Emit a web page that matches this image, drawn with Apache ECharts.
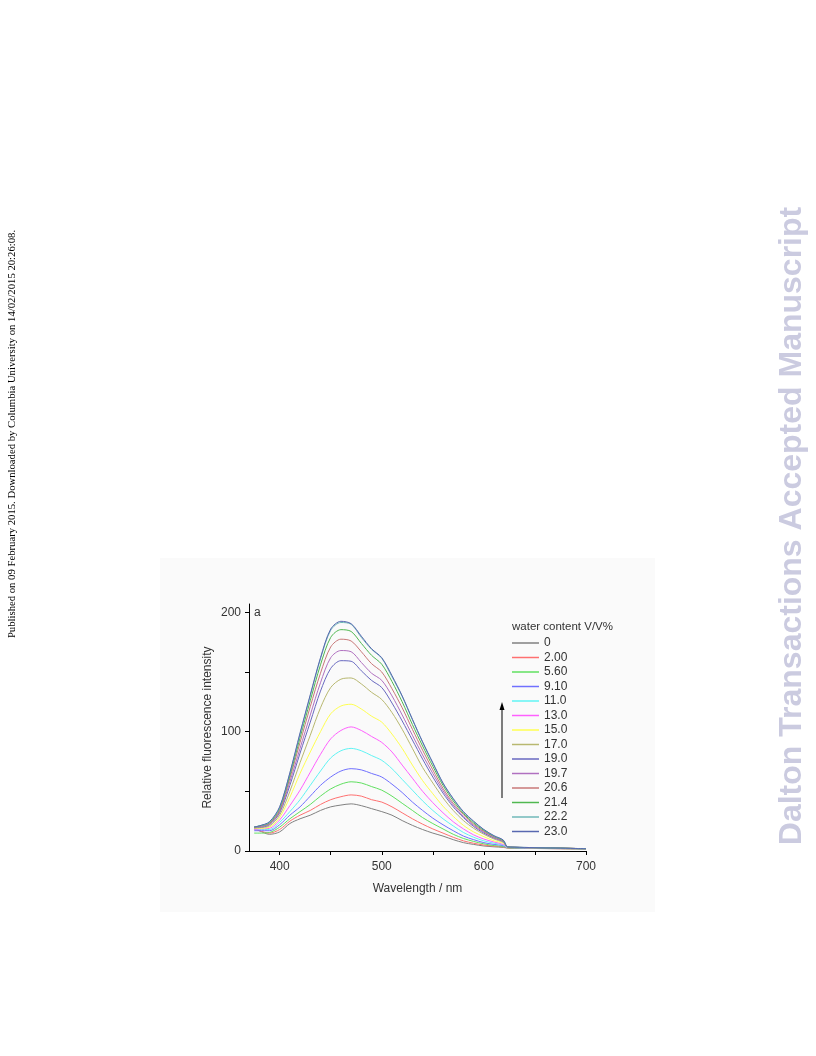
<!DOCTYPE html>
<html>
<head>
<meta charset="utf-8">
<script src="https://cdn.jsdelivr.net/npm/echarts@6/dist/echarts.min.js"></script>
<style>
html,body{margin:0;padding:0;background:#fff;}
#chart{width:816px;height:1056px;}
</style>
</head>
<body>
<div id="chart"></div>
<script>
// ---- data ----
const wavelengths = [375, 380, 390, 400, 410, 420, 430, 440, 450, 460, 470, 480, 490, 500, 510, 520, 530, 540, 550, 560, 570, 580, 590, 600, 610, 619, 623, 630, 640, 650, 660, 670, 680, 690, 700];

const seriesNames = ['0', '2.00', '5.60', '9.10', '11.0', '13.0', '15.0', '17.0', '19.0', '19.7', '20.6', '21.4', '22.2', '23.0'];

const w0_00 = [19, 17, 14, 16, 23, 27, 30, 34, 37, 38.5, 39.5, 38, 35.5, 33, 30, 25.5, 21.5, 18, 15, 12.5, 9.5, 7, 5.5, 4.2, 3.5, 3, 2.5, 2.3, 2.2, 2.1, 2, 1.9, 1.8, 1.7, 1.6];
const w2_00 = [18, 17, 15, 18, 25, 30, 34, 39, 43, 45.5, 47, 46, 43, 41, 37, 32, 27, 22.5, 18.5, 15, 11.5, 8.5, 6.5, 5, 4, 3.4, 2.6, 2.4, 2.3, 2.2, 2.1, 2, 1.9, 1.8, 1.7];
const w5_60 = [15, 15, 15.5, 20, 27, 33, 39, 46, 52, 56, 58, 57, 54, 51, 46, 40, 34, 28, 23, 18.5, 14, 10.5, 8, 6, 4.5, 3.8, 2.8, 2.6, 2.5, 2.4, 2.3, 2.2, 2, 1.9, 1.8];
const w9_10 = [17, 17, 17, 22, 30, 37, 46, 55, 62, 67, 69, 68, 65, 62, 56, 49, 41, 34, 27.5, 22, 17, 12.5, 9.5, 7, 5.5, 4.5, 3, 2.8, 2.6, 2.5, 2.4, 2.3, 2.1, 2, 1.9];
const w11_0 = [18, 18, 18, 24, 33, 43, 55, 67, 78, 84, 86, 84, 80, 76, 69, 60, 51, 42, 34, 27, 21, 15.5, 11.5, 8.5, 6.5, 5, 3, 2.8, 2.7, 2.6, 2.5, 2.3, 2.2, 2, 1.9];
const w13_0 = [18, 18.5, 19, 26, 38, 51, 66, 81, 94, 101, 104, 101, 96, 91, 83, 72, 61, 50, 40.5, 32, 24.5, 18.5, 13.5, 10, 7.5, 5.5, 3.2, 3, 2.8, 2.7, 2.5, 2.4, 2.2, 2.1, 2];
const w15_0 = [19, 19, 20, 28, 45, 65, 83, 100, 115, 121.5, 123, 119, 113, 108, 98, 86, 72, 59, 48, 37.5, 29, 21.5, 16, 12, 8.5, 6.5, 3.3, 3, 2.9, 2.7, 2.6, 2.4, 2.3, 2.1, 2];
const w17_0 = [19, 19.5, 21, 30, 50, 74, 97, 120, 137, 144, 145, 140, 133, 127, 116, 102, 86, 70, 57, 44.5, 34, 25.5, 19, 14, 10, 7.2, 3.4, 3.1, 2.9, 2.8, 2.6, 2.5, 2.3, 2.1, 2];
const w19_0 = [20, 20, 22, 32, 55, 82, 108, 134, 153, 159.5, 159, 151, 143, 137, 124, 109, 93, 77, 62, 48.5, 37, 28, 20.5, 15, 10.8, 7.8, 3.4, 3.1, 2.9, 2.8, 2.6, 2.5, 2.3, 2.1, 2];
const w19_7 = [20, 20.5, 22.5, 33, 58, 86, 114, 141, 162, 168, 167, 158, 149, 143, 130, 114, 97, 80.5, 65, 50.5, 38.5, 29, 21.5, 15.8, 11.2, 8.1, 3.5, 3.1, 2.9, 2.8, 2.6, 2.5, 2.3, 2.1, 2];
const w20_6 = [20, 20.5, 23, 34, 61, 91, 121, 149, 171, 177.5, 176, 167, 157, 150, 136, 120, 102, 84.5, 68, 52.5, 40, 30.5, 22.5, 16.5, 11.8, 8.4, 3.5, 3.1, 2.9, 2.8, 2.6, 2.5, 2.3, 2.1, 2];
const w21_4 = [20, 21, 23.5, 35.5, 63, 95, 126, 156, 179, 185.5, 184, 174, 164, 156.5, 142, 125, 106, 88, 71, 55, 42, 31.5, 23.5, 17.2, 12.2, 8.7, 3.5, 3.1, 2.9, 2.8, 2.6, 2.5, 2.3, 2.1, 2];
const w22_2 = [20, 21, 24, 36.5, 65, 98, 130, 161, 185, 191.5, 190, 179, 169, 161.5, 146, 129.5, 110, 91, 73.5, 56.5, 43.5, 32.5, 24.5, 17.8, 12.5, 9, 3.5, 3.2, 3, 2.8, 2.6, 2.5, 2.3, 2.1, 2];
const w23_0 = [20, 21, 24.5, 37, 65.5, 99, 131, 162, 186, 192.5, 190.5, 180, 169.5, 162, 147, 130, 110.5, 91.5, 74, 57, 44, 33, 25, 18, 12.8, 9.2, 3.6, 3.2, 3, 2.8, 2.6, 2.5, 2.3, 2.1, 2];

const seriesValues = [w0_00, w2_00, w5_60, w9_10, w11_0, w13_0, w15_0, w17_0, w19_0, w19_7, w20_6, w21_4, w22_2, w23_0];

const xTicks = [400, 450, 500, 550, 600, 650, 700];
const xTickLabels = [400, 500, 600, 700];
const yTicks = [0, 50, 100, 150, 200];
const yTickLabels = [0, 100, 200];

// ---- styles ----
const colors = ['#808080', '#ff7070', '#60e060', '#7070ff', '#60f4f4', '#ff60ff', '#ffff50', '#b8b870', '#6868c0', '#b070c0', '#c87878', '#50b850', '#70b8b8', '#5868b0'];
const FONT = 'Liberation Sans, Arial, sans-serif';

const chart = echarts.init(document.getElementById('chart'), null, {renderer: 'canvas'});

const series = seriesNames.map((name, i) => ({
  name: name,
  type: 'line',
  symbol: 'none',
  smooth: 0.3,
  data: wavelengths.map((w, k) => [w, seriesValues[i][k]]),
  lineStyle: {width: 1, color: colors[i]},
  itemStyle: {color: colors[i]},
  z: 2 + i
}));

chart.setOption({
  animation: false,
  backgroundColor: '#ffffff',
  grid: {left: 249, right: 230, top: 604, bottom: 205, containLabel: false},
  xAxis: {
    type: 'value',
    min: 370,
    max: 700,
    name: 'Wavelength / nm',
    nameLocation: 'middle',
    nameGap: 32,
    nameTextStyle: {fontFamily: FONT, fontSize: 12, color: '#333'},
    axisLine: {show: true, lineStyle: {color: '#000', width: 1}},
    axisTick: {show: true, length: 4, inside: false, customValues: xTicks, lineStyle: {color: '#000'}},
    axisLabel: {show: true, customValues: xTickLabels, margin: 10, fontFamily: FONT, fontSize: 12, color: '#333'},
    splitLine: {show: false}
  },
  yAxis: {
    type: 'value',
    min: 0,
    max: 207,
    name: 'Relative fluorescence intensity',
    nameLocation: 'middle',
    nameGap: 35,
    nameRotate: 90,
    nameTextStyle: {fontFamily: FONT, fontSize: 12, color: '#333'},
    axisLine: {show: true, lineStyle: {color: '#000', width: 1}},
    axisTick: {show: true, length: 4, inside: false, customValues: yTicks, lineStyle: {color: '#000'}},
    axisLabel: {show: true, customValues: yTickLabels, margin: 8, fontFamily: FONT, fontSize: 12, color: '#333'},
    splitLine: {show: false}
  },
  legend: {
    orient: 'vertical',
    left: 507,
    top: 632,
    itemWidth: 27,
    itemHeight: 10,
    itemGap: 2.5,
    icon: 'path://M0,0 L27,0 L27,1.5 L0,1.5 Z',
    data: seriesNames.map((n, i) => ({name: n, itemStyle: {color: colors[i], borderWidth: 0, opacity: 1}})),
    textStyle: {fontFamily: FONT, fontSize: 12, color: '#333'},
    selectedMode: false
  },
  title: [
    {text: 'water content V/V%', left: 507, top: 616, textStyle: {fontFamily: FONT, fontSize: 11.5, fontWeight: 'normal', color: '#333'}},
    {text: 'a', left: 249, top: 602, textStyle: {fontFamily: FONT, fontSize: 12, fontWeight: 'normal', color: '#333'}}
  ],
  graphic: [
    {type: 'rect', z: -10, shape: {x: 160, y: 558, width: 495, height: 354}, style: {fill: '#fafafa'}, silent: true},
    {type: 'line', shape: {x1: 502, y1: 798, x2: 502, y2: 708}, style: {stroke: '#000', lineWidth: 1}},
    {type: 'polygon', shape: {points: [[502, 702], [499.5, 710], [504.5, 710]]}, style: {fill: '#000'}},
    {type: 'text', x: 12, y: 434, rotation: Math.PI / 2,
      style: {text: 'Published on 09 February 2015. Downloaded by Columbia University on 14/02/2015 20:26:08.',
        font: '10.7px "Liberation Serif", "Times New Roman", serif', fill: '#000', align: 'center', verticalAlign: 'middle'}},
    {type: 'text', x: 792, y: 526, rotation: Math.PI / 2,
      style: {text: 'Dalton Transactions Accepted Manuscript',
        font: 'bold 32px "Liberation Sans", Arial, sans-serif', fill: '#cbcbe0', align: 'center', verticalAlign: 'middle'}}
  ],
  series: series
});
</script>
</body>
</html>
